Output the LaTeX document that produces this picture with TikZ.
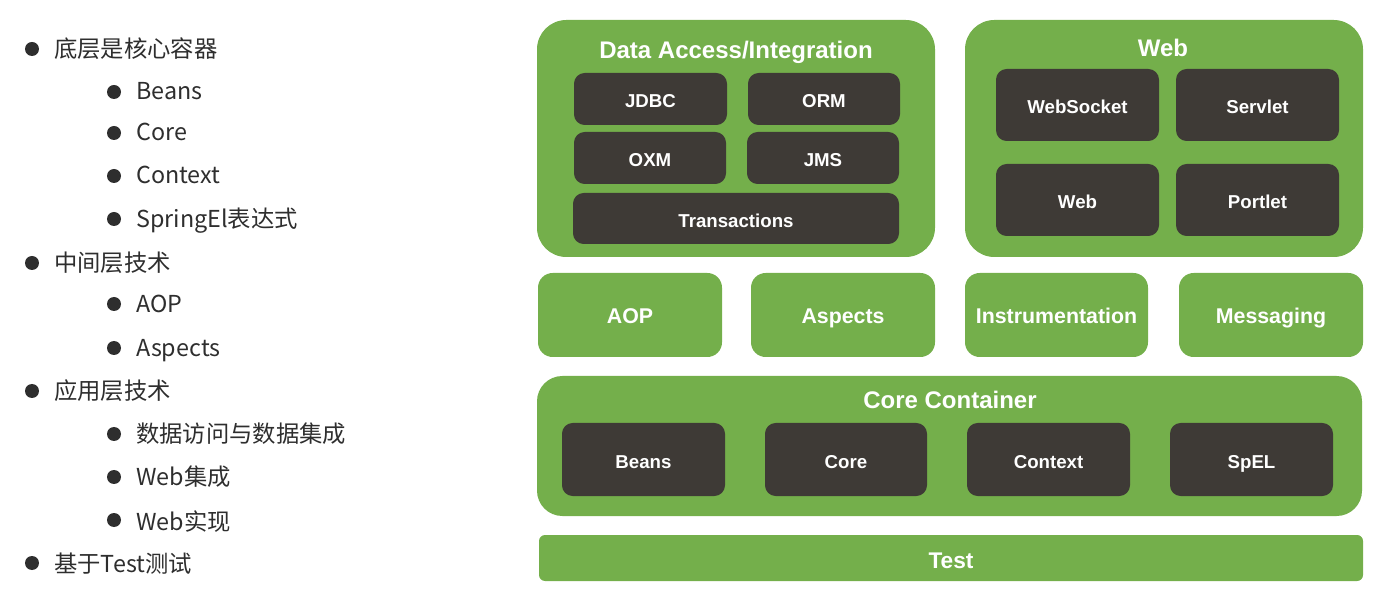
\documentclass[tikz,border=0pt]{standalone}
\usepackage{fontspec}
\setmainfont{Liberation Sans}
\newfontfamily\cjk{Noto Sans CJK SC}
\usetikzlibrary{fit}
\definecolor{springgreen}{HTML}{74AF4B}
\definecolor{modgray}{HTML}{3E3A36}
\definecolor{listink}{HTML}{2E2E2E}
\begin{document}
\begin{tikzpicture}[x=0.75pt,y=-0.75pt,
  group/.style={fill=springgreen, draw=none, inner sep=0pt, rounded corners=22pt},
  layer/.style={fill=springgreen, draw=none, inner sep=0pt, rounded corners=11pt},
  capbox/.style={text=white, inner sep=0pt, text height=0.72em, text depth=0pt, yshift=-3pt},
  layertext/.style={capbox, font=\bfseries\fontsize{16}{16}\selectfont},
  module/.style={fill=modgray, draw=none, inner sep=0pt, rounded corners=8pt},
  modtext/.style={capbox, font=\bfseries\fontsize{14}{14}\selectfont},
  grouptitle/.style={capbox, font=\bfseries\fontsize{18}{18}\selectfont},
  dot/.style={circle, fill=listink, draw=none, inner sep=0pt, minimum size=10.5pt},
  item/.style={anchor=base west, inner sep=0pt, text=listink, font=\cjk\fontsize{17.5}{17.5}\selectfont}]
\useasboundingbox (0,0) rectangle (1388,605);

% bullet list
\node[dot] (d1) at (32,49) {};   \node[item] (t1) at (54,58) {底层是核心容器};
\node[dot] (d2) at (114,92) {};  \node[item] (t2) at (136,100) {Beans};
\node[dot] (d3) at (114,133) {}; \node[item] (t3) at (136,141) {Core};
\node[dot] (d4) at (114,176) {}; \node[item] (t4) at (136,184) {Context};
\node[dot] (d5) at (114,219) {}; \node[item] (t5) at (136,228) {SpringEl表达式};
\node[dot] (d6) at (32,263) {};  \node[item] (t6) at (54,272) {中间层技术};
\node[dot] (d7) at (114,304) {}; \node[item] (t7) at (136,313) {AOP};
\node[dot] (d8) at (114,348) {}; \node[item] (t8) at (136,357) {Aspects};
\node[dot] (d9) at (32,391) {};  \node[item] (t9) at (54,400) {应用层技术};
\node[dot] (d10) at (114,434) {}; \node[item] (t10) at (136,443) {数据访问与数据集成};
\node[dot] (d11) at (114,477) {}; \node[item] (t11) at (136,485) {Web集成};
\node[dot] (d12) at (114,520) {}; \node[item] (t12) at (136,530) {Web实现};
\node[dot] (d13) at (32,563) {};  \node[item] (t13) at (54,572) {基于Test测试};

% Data Access/Integration group
\node[group, fit={(537,20) (935,257)}] (data) {};
\node[grouptitle] (datat) at (736,50) {Data Access/Integration};
\node[module, fit={(574,73) (727,125)}, label={[modtext]center:JDBC}] (jdbc) {};
\node[module, fit={(748,73) (900,125)}, label={[modtext]center:ORM}] (orm) {};
\node[module, fit={(574,132) (726,184)}, label={[modtext]center:OXM}] (oxm) {};
\node[module, fit={(747,132) (899,184)}, label={[modtext]center:JMS}] (jms) {};
\node[module, fit={(573,193) (899,244)}, label={[modtext]center:Transactions}] (tx) {};

% Web group
\node[group, fit={(965,20) (1363,257)}] (web) {};
\node[grouptitle] (webt) at (1163,48) {Web};
\node[module, fit={(996,69) (1159,141)}, label={[modtext]center:WebSocket}] (ws) {};
\node[module, fit={(1176,69) (1339,141)}, label={[modtext]center:Servlet}] (servlet) {};
\node[module, fit={(996,164) (1159,236)}, label={[modtext]center:Web}] (webm) {};
\node[module, fit={(1176,164) (1339,236)}, label={[modtext]center:Portlet}] (portlet) {};

% middle layer
\node[layer, fit={(538,273) (722,357)}, label={[layertext]center:AOP}] (aop) {};
\node[layer, fit={(751,273) (935,357)}, label={[layertext]center:Aspects}] (aspects) {};
\node[layer, fit={(965,273) (1148,357)}, label={[layertext]center:Instrumentation}] (instr) {};
\node[layer, fit={(1179,273) (1363,357)}, label={[layertext]center:Messaging}] (msg) {};

% Core Container group
\node[group, rounded corners=19pt, fit={(537,376) (1362,516)}] (core) {};
\node[grouptitle] (coret) at (950,400) {Core Container};
\node[module, fit={(562,423) (725,496)}, label={[modtext]center:Beans}] (beans) {};
\node[module, fit={(765,423) (927,496)}, label={[modtext]center:Core}] (corem) {};
\node[module, fit={(967,423) (1130,496)}, label={[modtext]center:Context}] (context) {};
\node[module, fit={(1170,423) (1333,496)}, label={[modtext]center:SpEL}] (spel) {};

% Test layer
\node[layer, rounded corners=4.5pt, fit={(539,535) (1363,581)},
      label={[layertext, yshift=-1.5pt, font=\bfseries\fontsize{17}{17}\selectfont]center:Test}] (test) {};
\end{tikzpicture}
\end{document}
